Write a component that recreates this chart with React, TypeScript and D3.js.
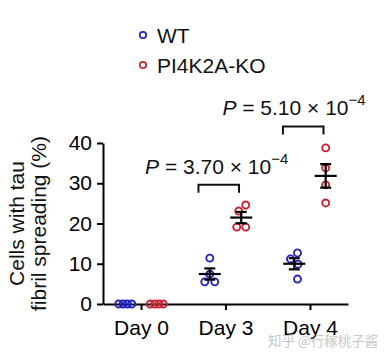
import { axisBottom, axisLeft, mean, deviation, scaleLinear, scalePoint, select } from 'd3';
import { useEffect, useRef } from 'react';

const days = ['Day 0', 'Day 3', 'Day 4'];
const yTicks = [0, 10, 20, 30, 40];

// values per day (%)
const wtValues = [
  [0, 0, 0, 0],
  [11.4, 7.4, 5.5, 5.5],
  [12.7, 11.2, 9.9, 6.2],
];
const koValues = [
  [0, 0, 0, 0],
  [24.6, 23.1, 19.1, 19.1],
  [38.8, 33.8, 29.6, 25.1],
];

const groups = ['WT', 'PI4K2A-KO'];
const colors = ['#2323b8', '#cc2232'];

const comparisons = [
  { day: 'Day 3', level: 29.6, mantissa: '3.70', exponent: '−4' },
  { day: 'Day 4', level: 44.1, mantissa: '5.10', exponent: '−4' },
];

const FONT = '"Liberation Sans", Arial, Helvetica, sans-serif';

// simple beeswarm: dodge circles so they don't overlap, then squeeze
function dodge(ys: number[], minDist: number, maxWidth: number) {
  const order = ys.map((y, i) => i).sort((a, b) => ys[a] - ys[b]);
  const placed: { x: number; y: number; i: number }[] = [];
  for (const i of order) {
    const y = ys[i];
    const cands = [0];
    for (let k = 1; k < 40; k++) cands.push(-k * 0.5, k * 0.5);
    let best = 0;
    for (const c of cands) {
      if (placed.every((p) => Math.hypot(p.x - c, p.y - y) >= minDist)) {
        best = c;
        break;
      }
    }
    placed.push({ x: best, y, i });
  }
  const xs = placed.map((p) => p.x);
  const lo = Math.min(...xs);
  const hi = Math.max(...xs);
  const mid = (lo + hi) / 2;
  const k = hi - lo > maxWidth ? maxWidth / (hi - lo) : 1;
  const out = new Array(ys.length).fill(0);
  placed.forEach((p) => (out[p.i] = (p.x - mid) * k));
  return out;
}

export default function App() {
  const width = 389;
  const height = 362;
  const gx = useRef<SVGGElement>(null);
  const gy = useRef<SVGGElement>(null);

  const x = scalePoint<string>().domain(days).range([103, 348]).padding(0.45);
  const y = scaleLinear().domain([0, 40]).range([304, 143]);
  const step = x.step();
  const groupOffset = step * 0.186;

  useEffect(() => {
    const ax = select(gx.current!).call(
      axisBottom(x).tickSize(6).tickSizeOuter(0).tickPadding(10),
    );
    ax.attr('font-size', 21).attr('font-family', FONT);
    ax.selectAll('path,line').attr('stroke', '#000').attr('stroke-width', 2);
    const ay = select(gy.current!).call(
      axisLeft(y).tickValues(yTicks).tickSize(6).tickSizeOuter(0).tickPadding(5),
    );
    ay.attr('font-size', 21).attr('font-family', FONT);
    ay.selectAll('path,line').attr('stroke', '#000').attr('stroke-width', 2);
  }, []);

  const series = [wtValues, koValues];
  const labelHalf = 73; // approx half width of the P label
  const labelRightLimit = 367;

  return (
    <svg
      width={width}
      height={height}
      style={{ position: 'absolute', left: 0, top: 0, background: '#fff' }}
      fontFamily={FONT}>
      {/* legend */}
      {groups.map((g, i) => (
        <g key={g} transform={`translate(143, ${35 + i * 30})`}>
          <circle r={3.2} fill='none' stroke={colors[i]} strokeWidth={1.8} />
          <text x={14} y={7.5} fontSize={21} fill='#111'>
            {g}
          </text>
        </g>
      ))}

      {/* y label */}
      <text transform={`translate(24, ${y(20)}) rotate(-90)`} textAnchor='middle' fontSize={21} fill='#111'>
        Cells with tau
      </text>
      <text transform={`translate(46, ${y(20)}) rotate(-90)`} textAnchor='middle' fontSize={21} fill='#111'>
        fibril spreading (%)
      </text>

      <g ref={gy} transform='translate(103, 0)' />
      <g ref={gx} transform='translate(0, 304)' />

      {/* points + mean ± SEM */}
      {series.map((s, gi) =>
        days.map((d, di) => {
          const vals = s[di];
          const cx = x(d)! + (gi === 0 ? -groupOffset : groupOffset);
          const offs = dodge(vals.map((v) => y(v)), 9, 13);
          const m = mean(vals)!;
          const sem = (deviation(vals) || 0) / Math.sqrt(vals.length);
          return (
            <g key={`${gi}-${d}`}>
              {vals.map((v, i) => (
                <circle
                  key={i}
                  cx={cx + offs[i]}
                  cy={y(v)}
                  r={3.5}
                  fill='none'
                  stroke={colors[gi]}
                  strokeWidth={1.9}
                />
              ))}
              {sem > 0 && (
                <g stroke='#000' strokeWidth={2.2}>
                  <line x1={cx - 11} x2={cx + 11} y1={y(m)} y2={y(m)} />
                  <line x1={cx} x2={cx} y1={y(m - sem)} y2={y(m + sem)} />
                  <line x1={cx - 5.5} x2={cx + 5.5} y1={y(m + sem)} y2={y(m + sem)} />
                  <line x1={cx - 5.5} x2={cx + 5.5} y1={y(m - sem)} y2={y(m - sem)} />
                </g>
              )}
            </g>
          );
        }),
      )}

      {/* significance brackets */}
      {comparisons.map((c) => {
        const x0 = x(c.day)! - step * 0.32;
        const x1 = x(c.day)! + step * 0.16;
        const yb = y(c.level);
        const tx = Math.min((x0 + x1) / 2 - 2, labelRightLimit - labelHalf);
        return (
          <g key={c.day}>
            <path
              d={`M${x0},${yb + 8}V${yb}H${x1}V${yb + 8}`}
              fill='none'
              stroke='#111'
              strokeWidth={2}
            />
            <text x={tx} y={yb - 11} fontSize={21} textAnchor='middle' fill='#111'>
              <tspan fontStyle='italic'>P</tspan>
              <tspan> = {c.mantissa} × 10</tspan>
              <tspan fontSize={15} dy={-10}>
                {c.exponent}
              </tspan>
            </text>
          </g>
        );
      })}

      {/* watermark */}
      <text x={268} y={346} fontSize={13.5} fill='#c8c8c8' fontFamily='"Noto Sans CJK SC", sans-serif'>
        知乎 @行稼桃子酱
      </text>
    </svg>
  );
}
